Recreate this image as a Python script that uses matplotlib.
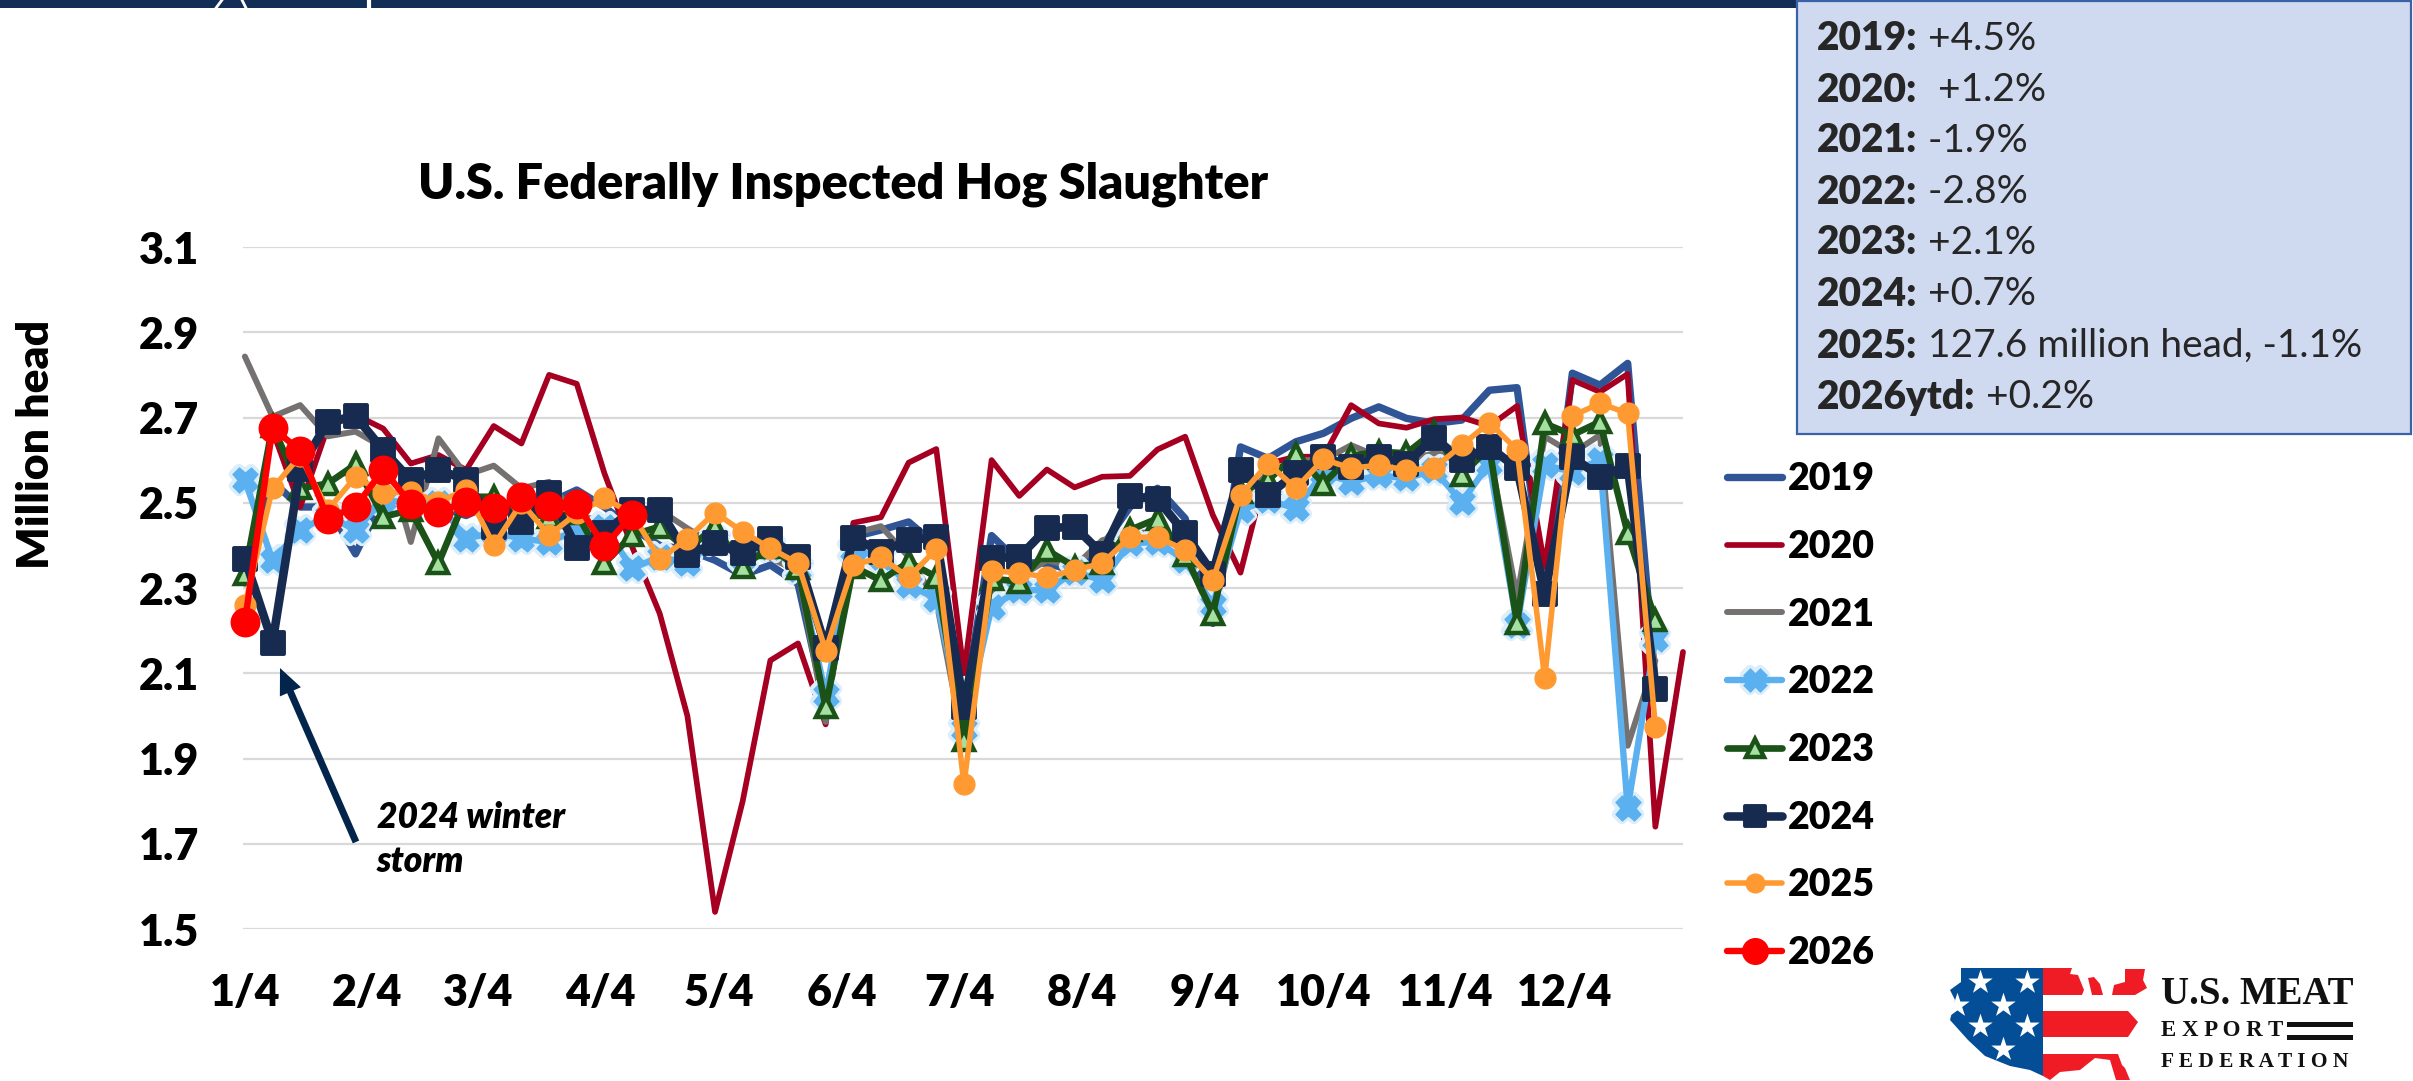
import numpy as np
import matplotlib
matplotlib.use("Agg")
import matplotlib.pyplot as plt
from matplotlib.patches import Polygon, Rectangle, FancyArrow
from matplotlib.markers import MarkerStyle
from matplotlib.legend_handler import HandlerTuple

W, H = 2413, 1081
FONT = ["Lato", "DejaVu Sans"]
plt.rcParams["font.family"] = FONT
HEAVY = "heavy"

n = None
weeks = list(range(53))
y2019 = [2.36,2.55,2.49,2.49,2.38,2.51,2.52,2.49,2.47,2.50,2.46,2.50,2.53,2.49,2.44,2.40,2.39,2.365,2.33,2.354,2.31,2.02,2.42,2.436,2.455,2.40,2.02,2.423,2.36,2.358,2.34,2.397,2.49,2.534,2.463,2.217,2.631,2.604,2.643,2.663,2.698,2.725,2.698,2.686,2.694,2.764,2.77,2.287,2.804,2.776,2.827,2.076,n]
y2020 = [2.31,2.67,2.49,2.678,2.706,2.674,2.592,2.612,2.577,2.68,2.639,2.80,2.779,2.569,2.397,2.24,2.00,1.54,1.80,2.13,2.17,1.98,2.453,2.466,2.594,2.626,2.10,2.60,2.516,2.578,2.536,2.561,2.563,2.625,2.655,2.471,2.336,2.592,2.608,2.608,2.729,2.686,2.676,2.696,2.70,2.68,2.727,2.35,2.788,2.76,2.802,1.74,2.15]
y2021 = [2.843,2.702,2.729,2.656,2.667,2.63,2.408,2.651,2.565,2.587,2.534,2.549,2.467,2.46,2.47,2.483,2.44,2.40,2.40,2.37,2.34,1.986,2.428,2.445,2.373,2.27,1.93,2.295,2.326,2.365,2.35,2.412,2.428,2.432,2.38,2.232,2.506,2.569,2.60,2.60,2.635,2.608,2.60,2.616,2.608,2.616,2.279,2.655,2.616,2.659,1.93,2.13,n]
y2022 = [2.553,2.365,2.436,2.47,2.436,2.506,2.50,2.50,2.416,2.43,2.416,2.408,2.436,2.444,2.346,2.373,2.358,2.41,2.37,2.397,2.345,2.05,2.39,2.373,2.307,2.275,1.97,2.256,2.295,2.295,2.338,2.318,2.405,2.408,2.365,2.26,2.483,2.506,2.487,2.569,2.549,2.565,2.557,2.577,2.502,2.592,2.213,2.588,2.573,2.60,1.785,2.18,n]
y2023 = [2.334,2.68,2.534,2.545,2.59,2.467,2.483,2.358,2.514,2.514,2.475,2.467,2.475,2.358,2.424,2.444,2.39,2.444,2.35,2.397,2.346,2.02,2.35,2.318,2.361,2.326,1.943,2.322,2.315,2.389,2.35,2.358,2.436,2.463,2.377,2.24,2.526,2.553,2.614,2.545,2.61,2.62,2.616,2.667,2.565,2.63,2.217,2.686,2.659,2.69,2.428,2.225,n]
y2024 = [2.369,2.172,2.58,2.69,2.703,2.624,2.553,2.578,2.553,2.444,2.455,2.522,2.395,2.43,2.483,2.483,2.377,2.405,2.381,2.415,2.373,2.16,2.418,2.385,2.412,2.419,2.02,2.37,2.373,2.44,2.444,2.38,2.516,2.508,2.428,2.334,2.577,2.518,2.569,2.608,2.585,2.608,2.592,2.653,2.60,2.631,2.581,2.287,2.608,2.561,2.587,2.064,n]
y2025 = [2.26,2.534,2.61,2.483,2.561,2.523,2.526,2.502,2.53,2.40,2.50,2.424,2.475,2.51,2.475,2.367,2.416,2.477,2.432,2.393,2.358,2.153,2.354,2.372,2.325,2.391,1.84,2.34,2.336,2.325,2.342,2.358,2.419,2.419,2.389,2.318,2.518,2.592,2.534,2.602,2.581,2.588,2.577,2.581,2.635,2.688,2.624,2.088,2.704,2.733,2.71,1.975,n]
y2026 = [2.22,2.676,2.622,2.463,2.49,2.578,2.498,2.479,2.502,2.487,2.513,2.492,2.498,2.398,2.471]
series_names = ["2019","2020","2021","2022","2023","2024","2025","2026"]
yticks = [1.5,1.7,1.9,2.1,2.3,2.5,2.7,2.9,3.1]
month_days = [0,31,59,90,120,151,181,212,243,273,304,334]
month_labels = ["1/4","2/4","3/4","4/4","5/4","6/4","7/4","8/4","9/4","10/4","11/4","12/4"]
box_bold = ["2019:","2020:","2021:","2022:","2023:","2024:","2025:","2026ytd:"]
box_rest = [" +4.5%","  +1.2%"," -1.9%"," -2.8%"," +2.1%"," +0.7%"," 127.6 million head, -1.1%"," +0.2%"]

fig = plt.figure(figsize=(W/100, H/100), dpi=100, facecolor="white")
L, R, T, B = 243.5, 1683, 247, 929
ax = fig.add_axes([L/W, 1-B/H, (R-L)/W, (B-T)/H])
ax.set_xlim(-0.05, 52)
ax.set_ylim(1.5, 3.1)
for s in ax.spines.values():
    s.set_visible(False)
ax.set_yticks(yticks)
ax.set_xticks([d/7 for d in month_days])
ax.set_xticklabels(month_labels)
ax.tick_params(length=0, labelsize=31)
ax.tick_params(axis="x", pad=32)
ax.tick_params(axis="y", pad=32)
for t in ax.get_xticklabels()+ax.get_yticklabels():
    t.set_fontweight(HEAVY); t.set_color("#000000")
ax.grid(axis="y", color="#D9D9D9", lw=1.6)
ax.set_axisbelow(True)

def arr(v):
    return np.array([np.nan if a is None else a for a in v], float)

data = [y2019,y2020,y2021,y2022,y2023,y2024,y2025,y2026]
styles = [
 dict(color="#2F5597", lw=5.3),
 dict(color="#A50021", lw=4.1),
 dict(color="#767171", lw=4.3),
 dict(color="#5BB1EF", lw=4.6, marker="X", ms=16, mfc="#5BB1EF", mec="#5BB1EF", mew=2.5),
 dict(color="#1A5218", lw=4.8, marker="^", ms=14.5, mfc="#A5E0A0", mec="#1A5218", mew=3.2),
 dict(color="#172B50", lw=6.2, marker=MarkerStyle("s", joinstyle="round"), ms=16, mfc="#172B50", mec="#172B50", mew=2.8),
 dict(color="#FF9A33", lw=4.0, marker="o", ms=15, mfc="#FF9A33", mec="#FF9A33"),
 dict(color="#FF0000", lw=4.6, marker="o", ms=20.5, mfc="#FF0000", mec="#FF0000"),
]
handles = []
for name, v, st in zip(series_names, data, styles):
    y = arr(v)
    halo = None
    if name == "2022":
        halo, = ax.plot(weeks[:len(y)], y, ls="none", clip_on=False,
                        marker=MarkerStyle("X", joinstyle="round"), ms=16, mfc="#DDEEFB", mec="#DDEEFB", mew=7.5)
    h, = ax.plot(weeks[:len(y)], y, label=name, clip_on=False, solid_joinstyle="round", solid_capstyle="round", **st)
    handles.append((halo, h) if halo is not None else h)

leg = ax.legend(handles=handles, labels=series_names, loc="upper left", bbox_to_anchor=(1727/W, 1-462/H), bbox_transform=fig.transFigure,
          frameon=False, labelspacing=0.9, handlelength=1.47, handletextpad=0.16, borderpad=0, borderaxespad=0,
          markerscale=0.9, prop=dict(family=FONT, weight=HEAVY, size=27),
          handler_map={tuple: HandlerTuple(ndivide=1, pad=0)})
for t in leg.get_texts():
    t.set_color("#000000")

# page furniture, in pixel coordinates
ov = fig.add_axes([0,0,1,1], facecolor="none", zorder=5)
ov.set_xlim(0,W); ov.set_ylim(H,0); ov.axis("off")
ov.add_patch(Rectangle((0,0),1798,8,fc="#132E56",ec="none"))
ov.plot([216,222],[8,0],color="white",lw=2); ov.plot([242,246],[0,8],color="white",lw=2); ov.plot([369,369],[0,8],color="white",lw=3)
ov.add_patch(Rectangle((1797,0.5),614,433,fc="#CFDAF1",ec="#3A62A8",lw=1.6))

ov.text(843,184,"U.S. Federally Inspected Hog Slaughter",ha="center",va="center",fontsize=35,fontweight=HEAVY,color="#000000")
ov.text(36,444,"Million head",ha="center",va="center",rotation=90,fontsize=32,fontweight=HEAVY,color="#000000")
ov.text(377,817,"2024 winter",ha="left",va="center",fontsize=25.5,fontweight=HEAVY,fontstyle="italic",color="#000000")
ov.text(377,862,"storm",ha="left",va="center",fontsize=25.5,fontweight=HEAVY,fontstyle="italic",color="#000000")
ov.add_patch(FancyArrow(356,842,280-356,668-842,width=7,head_width=23,head_length=26,length_includes_head=True,fc="#03254C",ec="none"))

fig.canvas.draw()
rend = fig.canvas.get_renderer()
ys = [39,90,141,192,243,294,346,397]
for b, r, y in zip(box_bold, box_rest, ys):
    t = ov.text(1817,y,b,ha="left",va="center",fontsize=28,fontweight=HEAVY,color="#262626")
    e = t.get_window_extent(rend)
    ov.text(e.x1+1,y,r,ha="left",va="center",fontsize=28,color="#262626")

# logo
blue = [(1961,968),(2043,968),(2043,1076),(2030,1070),(2010,1066),(1985,1056),(1968,1040),(1950,1020),(1955,1000),(1950,990),(1961,982)]
ov.add_patch(Polygon(blue,fc="#034E96",ec="none"))
reds = [
 [(2043,968),(2072,968),(2070,974),(2078,975),(2084,990),(2082,995),(2043,995)],
 [(2088,978),(2094,977),(2100,984),(2103,995),(2092,995)],
 [(2125,969),(2145,969),(2143,980),(2147,988),(2135,995),(2112,995),(2114,985),(2125,982)],
 [(2043,1011),(2128,1011),(2138,1022),(2128,1037),(2043,1037)],
 [(2043,1054),(2118,1054),(2122,1065),(2125,1068),(2130,1080),(2116,1080),(2110,1060),(2095,1058),(2080,1070),(2060,1072),(2050,1080),(2043,1076)],
]
for p in reds:
    ov.add_patch(Polygon(p,fc="#EF1C25",ec="none"))
sx = [1980,2027,1957,2003,1980,2027,2003]
sy = [982,982,1005,1005,1026,1026,1049]
ov.scatter(sx,sy,marker="*",s=340,c="white",linewidths=0)
SERIF="Liberation Serif"
ov.text(2161,995,"U.S. MEAT",family=SERIF,fontweight="bold",fontsize=28,va="center",ha="left",color="#111111")
ov.text(2161,1030,"E X P O R T",family=SERIF,fontweight="bold",fontsize=16.5,va="center",ha="left",color="#111111")
ov.text(2161,1062,"F E D E R A T I O N",family=SERIF,fontweight="bold",fontsize=15.5,va="center",ha="left",color="#111111")
ov.add_patch(Rectangle((2287,1022),66,4.5,fc="#111111",ec="none"))
ov.add_patch(Rectangle((2287,1035),66,4.5,fc="#111111",ec="none"))

fig.savefig("out.png",dpi=100,facecolor="white")
